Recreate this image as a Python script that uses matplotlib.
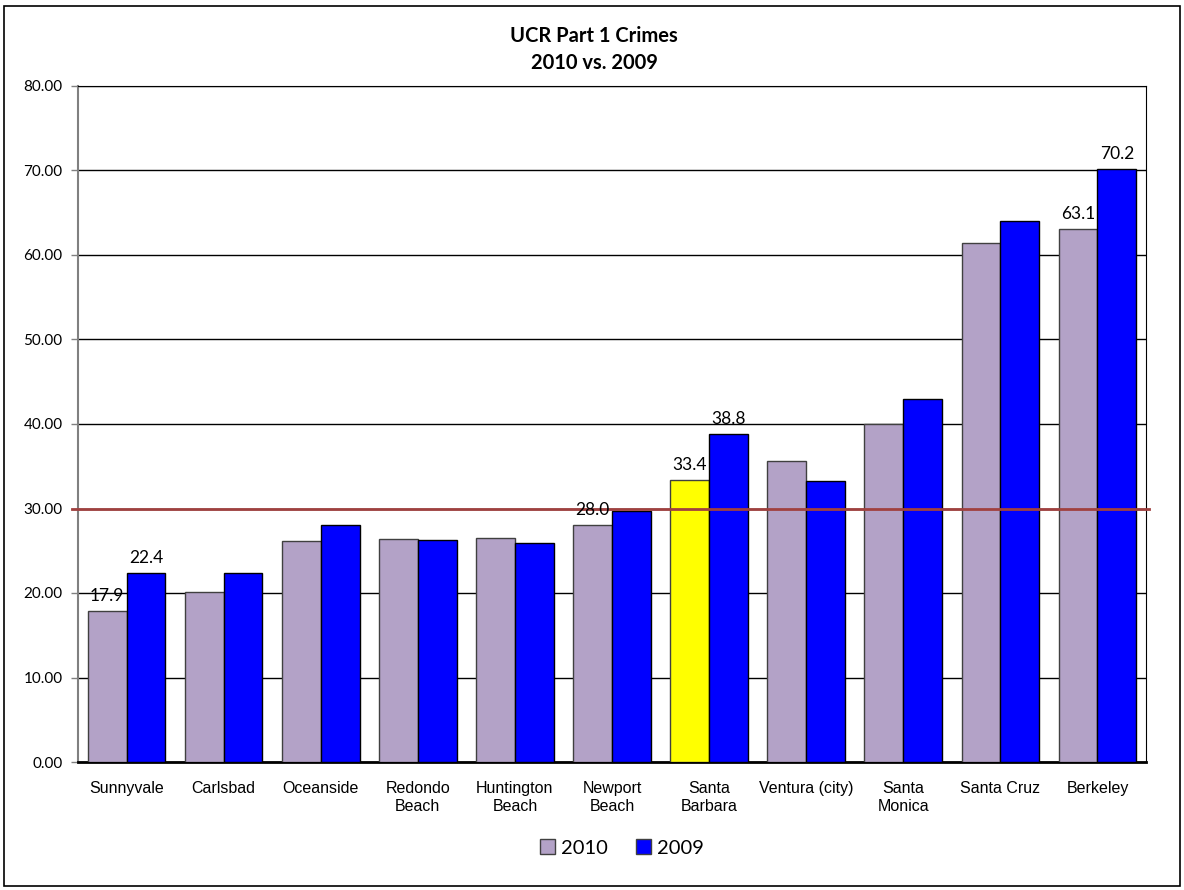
#!/usr/bin/env python

import numpy as np
import matplotlib
matplotlib.use("Agg")
import matplotlib.pyplot as plt
from matplotlib.patches import Rectangle, Patch


CITIES = ["Sunnyvale", "Carlsbad", "Oceanside", "Redondo\nBeach", "Huntington\nBeach",
          "Newport\nBeach", "Santa\nBarbara", "Ventura (city)", "Santa\nMonica",
          "Santa Cruz", "Berkeley"]
Y2010 = [17.9, 20.1, 26.2, 26.4, 26.5, 28.0, 33.4, 35.6, 40.0, 61.4, 63.1]
Y2009 = [22.4, 22.4, 28.0, 26.3, 25.9, 29.7, 38.8, 33.3, 42.9, 64.0, 70.2]
LABEL_2010 = [0, 5, 6, 10]   # which bars carry a value label
LABEL_2009 = [0, 6, 10]
HIGHLIGHT = 6                # Santa Barbara
REF_LINE = 30.0
Y_TICKS = [0, 10, 20, 30, 40, 50, 60, 70, 80]

C2010 = "#B3A2C7"
C2009 = "#0000FF"
CHIGH = "#FFFF00"
CALIBRI = ["Lato", "DejaVu Sans"]
ARIAL = ["Liberation Sans", "DejaVu Sans"]


def main():
    fig = plt.figure(figsize=(11.84, 8.90), dpi=100, facecolor="white")
    ax = fig.add_axes([78 / 1184, 1 - 762 / 890, (1146 - 78) / 1184, (762 - 86) / 890])

    x = np.arange(len(CITIES))
    w = 0.4
    colors_2010 = [CHIGH if i == HIGHLIGHT else C2010 for i in range(len(CITIES))]
    ax.bar(x - w / 2, Y2010, w, color=colors_2010, edgecolor="#404040", linewidth=1.0, zorder=3)
    ax.bar(x + w / 2, Y2009, w, color=C2009, edgecolor="#000000", linewidth=1.0, zorder=3)

    for i in LABEL_2010:
        ax.annotate("%.1f" % Y2010[i], (x[i] - w / 2, Y2010[i]), xytext=(0, 5),
                    textcoords="offset points", ha="center", va="bottom",
                    fontsize=12.5, family=CALIBRI, zorder=5)
    for i in LABEL_2009:
        ax.annotate("%.1f" % Y2009[i], (x[i] + w / 2, Y2009[i]), xytext=(0, 5),
                    textcoords="offset points", ha="center", va="bottom",
                    fontsize=12.5, family=CALIBRI, zorder=5)

    ax.axhline(REF_LINE, xmin=-0.006, xmax=1.003, color="#A0403F", linewidth=2.0,
               zorder=4, clip_on=False)

    ax.set_xlim(-0.5, len(CITIES) - 0.5)
    ax.set_ylim(0, 80)
    ax.set_yticks(Y_TICKS)
    ax.set_yticklabels(["%.2f" % v for v in Y_TICKS], family=CALIBRI, fontsize=11)
    ax.yaxis.grid(True, color="black", linewidth=1.0, zorder=0)
    ax.set_axisbelow(True)
    ax.tick_params(axis="y", length=5, width=1, color="#808080", pad=6)
    ax.set_xticks(x)
    ax.set_xticklabels(CITIES, family=ARIAL, fontsize=11.5)
    for lbl in ax.get_xticklabels():
        lbl.set_linespacing(1.25)
    ax.tick_params(axis="x", length=0, pad=14)

    ax.spines["left"].set_color("#808080")
    ax.spines["left"].set_linewidth(1.5)
    ax.spines["bottom"].set_color("black")
    ax.spines["bottom"].set_linewidth(2.0)
    ax.spines["top"].set_color("black")
    ax.spines["right"].set_color("black")

    fig.text(594 / 1184, 1 - 36 / 890, "UCR Part 1 Crimes", ha="center", va="center",
             fontsize=14.5, fontweight="bold", family=CALIBRI)
    fig.text(594 / 1184, 1 - 63 / 890, "2010 vs. 2009", ha="center", va="center",
             fontsize=14.5, fontweight="bold", family=CALIBRI)

    handles = [Patch(facecolor=C2010, edgecolor="#404040"),
               Patch(facecolor=C2009, edgecolor="#404040")]
    fig.legend(handles, ["2010", "2009"], loc="center",
               bbox_to_anchor=(622 / 1184, 1 - 848 / 890),
               ncol=2, frameon=False, prop={"family": CALIBRI, "size": 14.5},
               handlelength=0.75, handleheight=0.75, handletextpad=0.3, columnspacing=1.4)

    fig.patches.append(Rectangle((4 / 1184, 4 / 890), 1176 / 1184, 880 / 890,
                                 transform=fig.transFigure, fill=False,
                                 edgecolor="black", linewidth=1.2))

    fig.savefig("out.png", dpi=100, facecolor="white")


if __name__ == "__main__":
    main()
